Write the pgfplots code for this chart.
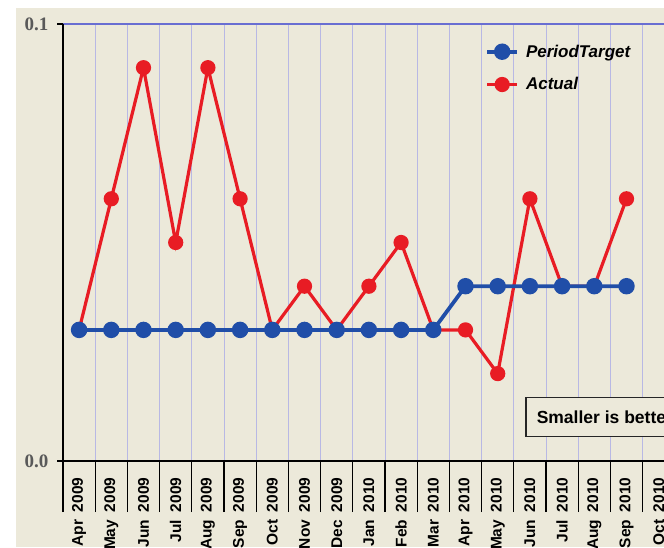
\documentclass[border=0pt]{standalone}
\usepackage{pgfplots}
\pgfplotsset{compat=1.18}
\usepackage{fontspec}
\setmainfont{Liberation Sans}
\newfontfamily\serifb{Liberation Serif}
\definecolor{bg}{RGB}{236,233,218}
\definecolor{gridc}{RGB}{184,184,228}
\definecolor{topc}{RGB}{105,110,210}
\definecolor{tblue}{RGB}{32,78,168}
\definecolor{ared}{RGB}{232,28,36}
\begin{document}
\begin{tikzpicture}
\clip (0,0) rectangle (664pt,547pt);
\fill[white] (0,0) rectangle (664pt,547pt);
\fill[bg] (16pt,0) rectangle (664pt,539pt);
\begin{axis}[
  at={(63pt,86pt)}, anchor=south west, scale only axis,
  width=611.8pt, height=437pt,
  xmin=-0.5, xmax=18.5, ymin=0, ymax=0.1,
  axis x line*=bottom, axis y line*=left,
  axis line style={black, line width=1.3pt},
  xtick={0,...,18},
  xticklabels={Apr\hspace{0.5em}2009,May\hspace{0.5em}2009,Jun\hspace{0.5em}2009,Jul\hspace{0.5em}2009,Aug\hspace{0.5em}2009,Sep\hspace{0.5em}2009,Oct\hspace{0.5em}2009,Nov\hspace{0.5em}2009,Dec\hspace{0.5em}2009,Jan\hspace{0.5em}2010,Feb\hspace{0.5em}2010,Mar\hspace{0.5em}2010,Apr\hspace{0.5em}2010,May\hspace{0.5em}2010,Jun\hspace{0.5em}2010,Jul\hspace{0.5em}2010,Aug\hspace{0.5em}2010,Sep\hspace{0.5em}2010,Oct\hspace{0.5em}2010},
  major x tick style={draw=none},
  minor xtick={-0.5,0.5,...,18.5},
  minor x tick style={black, line width=1.3pt},
  minor tick length=51pt,
  major tick length=6pt,
  tick align=outside,
  xminorgrids, minor grid style={gridc, line width=0.9pt},
  ytick={0,0.1}, yticklabels={0.0,0.1},
  ymajorgrids, major grid style={topc, line width=1.1pt},
  y tick style={black, line width=1.3pt},
  x tick label style={rotate=90, anchor=east, font=\bfseries\fontsize{15.5}{15.5}\selectfont},
  xticklabel shift=7pt,
  y tick label style={font=\serifb\bfseries\fontsize{19}{19}\selectfont, text=black!65},
  yticklabel shift=5pt,
  legend style={draw=none, fill=none, at={(0.685,0.962)}, anchor=north west,
    font=\bfseries\itshape\fontsize{17}{17}\selectfont, row sep=15pt, column sep=5pt},
  legend cell align=left,
  reverse legend,
  legend image code/.code={\draw[mark repeat=2,mark phase=2,#1] plot coordinates {(0pt,0pt)(15pt,0pt)(30pt,0pt)};},
]
\addplot[ared, line width=3.2pt, mark=*, mark size=6pt, mark options={solid, fill=ared, draw=ared}] coordinates {
(0,0.03)(1,0.06)(2,0.09)(3,0.05)(4,0.09)(5,0.06)(6,0.03)(7,0.04)(8,0.03)(9,0.04)(10,0.05)(11,0.03)(12,0.03)(13,0.02)(14,0.06)(15,0.04)(16,0.04)(17,0.06)};
\addlegendentry{Actual}
\addplot[tblue, line width=3.8pt, mark=*, mark size=6.3pt, mark options={solid, fill=tblue, draw=tblue}] coordinates {
(0,0.03)(1,0.03)(2,0.03)(3,0.03)(4,0.03)(5,0.03)(6,0.03)(7,0.03)(8,0.03)(9,0.03)(10,0.03)(11,0.03)(12,0.04)(13,0.04)(14,0.04)(15,0.04)(16,0.04)(17,0.04)};
\addlegendentry{PeriodTarget}
\end{axis}
\node[draw=black!85, line width=1.5pt, anchor=south west, minimum height=39pt, inner xsep=11pt, font=\bfseries\fontsize{17.5}{17.5}\selectfont, fill=bg] at (525pt,110pt) {Smaller is better};
\end{tikzpicture}
\end{document}
